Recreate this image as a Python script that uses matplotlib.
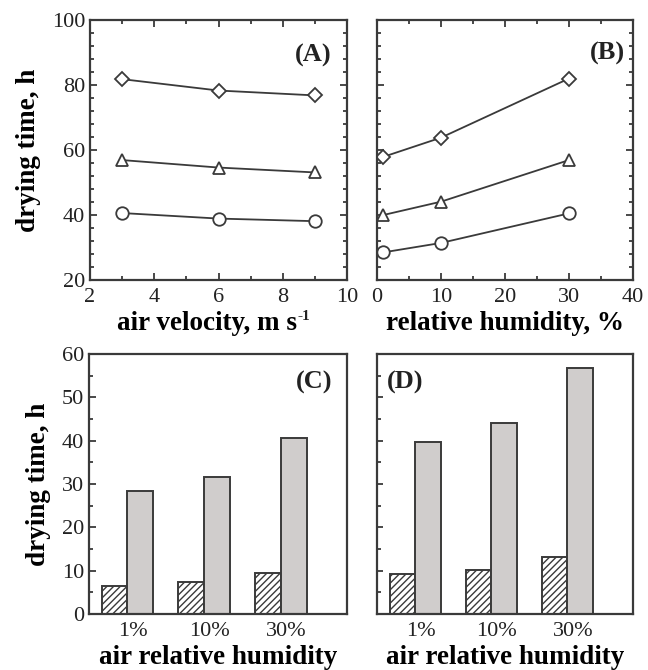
import matplotlib
matplotlib.use("Agg")
import matplotlib.pyplot as plt
from matplotlib.ticker import MultipleLocator
import numpy as np

plt.rcParams['font.family'] = ['Liberation Serif', 'DejaVu Serif']
plt.rcParams['hatch.linewidth'] = 1.0
plt.rcParams['hatch.color'] = '#333333'

# Panel A data
air_velocity = [3, 6, 9]
a_diamond = [81.8, 78.3, 76.8]
a_triangle = [56.9, 54.6, 53.1]
a_circle = [40.6, 38.9, 38.1]

# Panel B data
rel_humidity = [1, 10, 30]
b_diamond = [57.9, 63.8, 82.0]
b_triangle = [40.0, 44.1, 56.9]
b_circle = [28.5, 31.4, 40.5]

# Panels C and D
categories = ['1%', '10%', '30%']
c_hatched = [6.5, 7.5, 9.4]
c_gray = [28.4, 31.6, 40.6]
d_hatched = [9.2, 10.2, 13.1]
d_gray = [39.7, 44.0, 56.8]

W, H = 648, 670
fig = plt.figure(figsize=(W / 100, H / 100), dpi=100)

def ax_px(l, r, t, b):
    return fig.add_axes([l / W, (H - b) / H, (r - l) / W, (b - t) / H])

ink = '#3a3a3a'
TICK_FS = 16
LAB_FS = 19.5
PAN_FS = 19

def style(ax):
    for s in ax.spines.values():
        s.set_color(ink)
        s.set_linewidth(1.6)
    ax.tick_params(which='both', direction='in', colors=ink, labelcolor='#222222',
                   labelsize=TICK_FS, width=1.3)
    ax.tick_params(which='major', length=5)
    ax.tick_params(which='minor', length=3)

axA = ax_px(90, 347, 20, 280)
axB = ax_px(377, 633, 20, 280)
axC = ax_px(89, 347, 354, 614)
axD = ax_px(377, 633, 354, 614)

mk = dict(color=ink, lw=1.3, markerfacecolor='white', markeredgecolor=ink,
          markeredgewidth=1.3, markersize=9)

for ax, x, dia, tri, cir in [(axA, air_velocity, a_diamond, a_triangle, a_circle),
                             (axB, rel_humidity, b_diamond, b_triangle, b_circle)]:
    ax.plot(x, dia, marker='D', **{**mk, 'markersize': 7.5})
    ax.plot(x, tri, marker='^', **mk)
    ax.plot(x, cir, marker='o', **mk)
    style(ax)
    ax.set_ylim(20, 100)
    ax.yaxis.set_major_locator(MultipleLocator(20))
    ax.yaxis.set_minor_locator(MultipleLocator(4))
    ax.tick_params(which='both', top=True, right=True)

axA.set_xlim(2, 10)
axA.xaxis.set_major_locator(MultipleLocator(2))
axA.xaxis.set_minor_locator(MultipleLocator(1))
axB.set_xlim(0, 40)
axB.xaxis.set_major_locator(MultipleLocator(10))
axB.xaxis.set_minor_locator(MultipleLocator(5))
axB.tick_params(labelleft=False)
axA.tick_params(axis='x', pad=6)
axB.tick_params(axis='x', pad=6)

axA.set_xlabel('air velocity, m s', fontsize=LAB_FS, fontweight='bold', labelpad=3)
axA.xaxis.label.set_x(0.455)
axB.set_xlabel('relative humidity, %', fontsize=LAB_FS, fontweight='bold', labelpad=3)
axA.set_ylabel('drying time, h', fontsize=LAB_FS, fontweight='bold', labelpad=8)

axA.text(0.94, 0.865, '(A)', transform=axA.transAxes, ha='right', va='center',
         fontsize=PAN_FS, fontweight='bold', color='#222222')
axB.text(0.97, 0.873, '(B)', transform=axB.transAxes, ha='right', va='center',
         fontsize=PAN_FS, fontweight='bold', color='#222222')

xpos = np.arange(len(categories))
bw = 0.335
for ax, hv, gv in [(axC, c_hatched, c_gray), (axD, d_hatched, d_gray)]:
    ax.bar(xpos - bw / 2, hv, width=bw, facecolor='white', edgecolor=ink,
           hatch='/////', linewidth=1.4)
    ax.bar(xpos + bw / 2, gv, width=bw, facecolor='#d0cdcc', edgecolor=ink,
           linewidth=1.4)
    style(ax)
    ax.set_xlim(-0.5, 2.86)
    ax.set_ylim(0, 60)
    ax.set_xticks(xpos + 0.07)
    ax.set_xticklabels(categories)
    ax.tick_params(axis='x', length=0, pad=6)
    ax.yaxis.set_major_locator(MultipleLocator(10))
    ax.yaxis.set_minor_locator(MultipleLocator(5))
    ax.set_xlabel('air relative humidity', fontsize=LAB_FS, fontweight='bold', labelpad=3)

axD.tick_params(labelleft=False)
axD.tick_params(axis='y', which='major', length=4)
axC.set_ylabel('drying time, h', fontsize=LAB_FS, fontweight='bold', labelpad=8)

axC.text(0.945, 0.892, '(C)', transform=axC.transAxes, ha='right', va='center',
         fontsize=PAN_FS, fontweight='bold', color='#222222')
axD.text(0.04, 0.892, '(D)', transform=axD.transAxes, ha='left', va='center',
         fontsize=PAN_FS, fontweight='bold', color='#222222')

# small superscript "-1" after the A x-label
fig.canvas.draw()
bb = axA.xaxis.label.get_window_extent()
fig.text((bb.x1 + 1) / W, (bb.y1 + 2) / H, '-1', fontsize=11, fontweight='bold',
         ha='left', va='top', color='#222222')

fig.savefig('out.png', dpi=100)
